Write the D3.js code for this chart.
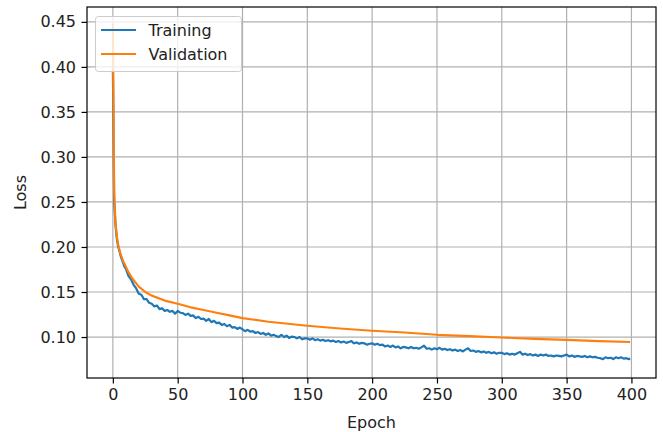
<!DOCTYPE html>
<html>
<head>
<meta charset="utf-8">
<script src="https://cdn.jsdelivr.net/npm/d3@7"></script>
<style>
  body { margin: 0; background: #fff; }
  text { font-family: "DejaVu Sans", sans-serif; fill: #222; }
</style>
</head>
<body>
<div id="chart"></div>
<script>
// epochs 0-9 one by one, then every second epoch, then the last one
const trainEpochs = [...d3.range(0, 10), ...d3.range(10, 400, 2), 399];
const trainLoss = [
  0.40, 0.25, 0.225, 0.21, 0.201, 0.196, 0.19, 0.186, 0.182, 0.178,
  // 10-48
  0.176, 0.168, 0.164, 0.158, 0.154, 0.148, 0.147, 0.142, 0.142, 0.138,
  0.137, 0.134, 0.135, 0.131, 0.132, 0.129, 0.130, 0.128, 0.129, 0.126,
  // 50-98
  0.129, 0.127, 0.1265, 0.1245, 0.126, 0.1235, 0.124, 0.121, 0.1225, 0.120,
  0.1205, 0.118, 0.120, 0.1165, 0.118, 0.1155, 0.116, 0.1135, 0.1145, 0.112,
  0.1135, 0.1105, 0.111, 0.109, 0.1105,
  // 100-148
  0.1085, 0.1065, 0.108, 0.106, 0.1065, 0.1045, 0.1055, 0.1035, 0.1045, 0.1025,
  0.104, 0.1015, 0.1025, 0.101, 0.100, 0.1025, 0.100, 0.1015, 0.099, 0.1005,
  0.100, 0.0985, 0.100, 0.0975, 0.0985,
  // 150-198
  0.0985, 0.097, 0.0985, 0.0965, 0.0975, 0.096, 0.097, 0.0955, 0.0965, 0.0952,
  0.096, 0.0945, 0.0955, 0.094, 0.095, 0.0935, 0.0945, 0.0955, 0.093, 0.094,
  0.0925, 0.0935, 0.093, 0.0915, 0.0925,
  // 200-248
  0.093, 0.0915, 0.0925, 0.091, 0.0915, 0.0895, 0.0905, 0.089, 0.0905, 0.0885,
  0.0895, 0.0875, 0.089, 0.0885, 0.0875, 0.089, 0.0875, 0.088, 0.087, 0.0885,
  0.0905, 0.087, 0.0875, 0.086, 0.0875,
  // 250-298
  0.0865, 0.088, 0.086, 0.087, 0.0855, 0.0865, 0.085, 0.086, 0.0845, 0.0855,
  0.084, 0.086, 0.0875, 0.0845, 0.085, 0.0835, 0.0845, 0.083, 0.084, 0.0825,
  0.0835, 0.082, 0.083, 0.0815, 0.0825,
  // 300-348
  0.0825, 0.081, 0.082, 0.0805, 0.0815, 0.0805, 0.082, 0.0835, 0.0805, 0.0815,
  0.080, 0.081, 0.0795, 0.0805, 0.079, 0.0805, 0.0795, 0.0805, 0.079, 0.0795,
  0.0785, 0.0795, 0.079, 0.0785, 0.0795,
  // 350-398, 399
  0.0805, 0.0785, 0.0795, 0.078, 0.079, 0.0785, 0.078, 0.079, 0.0775, 0.0785,
  0.0775, 0.078, 0.077, 0.0765, 0.0755, 0.0775, 0.0765, 0.077, 0.0755, 0.0775,
  0.0765, 0.0775, 0.076, 0.0765, 0.0755, 0.076
];

const valEpochs = [0, 1, 2, 3, 4, 5, 6, 8, 10, 12, 15, 20, 25, 30, 40, 50, 60, 70, 80, 90,
  100, 120, 150, 175, 200, 225, 250, 275, 300, 325, 350, 375, 399];
const valLoss = [0.448, 0.26, 0.228, 0.212, 0.203, 0.197, 0.192, 0.184, 0.178, 0.172,
  0.165, 0.156, 0.150, 0.146, 0.1405, 0.137, 0.133, 0.130, 0.127, 0.124,
  0.121, 0.117, 0.1125, 0.1095, 0.107, 0.105, 0.1025, 0.101, 0.0995, 0.098,
  0.0968, 0.0955, 0.0945];

const xTicks = [0, 50, 100, 150, 200, 250, 300, 350, 400];
const yTicks = [0.10, 0.15, 0.20, 0.25, 0.30, 0.35, 0.40, 0.45];
const xLimits = [-19.95, 418.95];
const yLimits = [0.0545, 0.4665];

const width = 663, height = 432;
const margin = { top: 7, right: 7, bottom: 54, left: 87 };
const innerW = width - margin.left - margin.right;
const innerH = height - margin.top - margin.bottom;
const fontSize = 16;

const x = d3.scaleLinear().domain(xLimits).range([0, innerW]);
const y = d3.scaleLinear().domain(yLimits).range([innerH, 0]);

const svg = d3.select('#chart').append('svg')
  .attr('width', width)
  .attr('height', height);

const g = svg.append('g')
  .attr('transform', `translate(${margin.left},${margin.top})`);

svg.append('defs').append('clipPath').attr('id', 'clip')
  .append('rect').attr('width', innerW).attr('height', innerH);

// grid
g.append('g').selectAll('line').data(xTicks).join('line')
  .attr('x1', d => x(d)).attr('x2', d => x(d))
  .attr('y1', 0).attr('y2', innerH)
  .attr('stroke', '#b0b0b0').attr('stroke-width', 1.2);
g.append('g').selectAll('line').data(yTicks).join('line')
  .attr('y1', d => y(d)).attr('y2', d => y(d))
  .attr('x1', 0).attr('x2', innerW)
  .attr('stroke', '#b0b0b0').attr('stroke-width', 1.2);

// axes
const xAxis = g.append('g')
  .attr('transform', `translate(0,${innerH})`)
  .call(d3.axisBottom(x).tickValues(xTicks).tickSize(5.5).tickPadding(5.5).tickFormat(d3.format('d')));
const yAxis = g.append('g')
  .call(d3.axisLeft(y).tickValues(yTicks).tickSize(5.5).tickPadding(5.5).tickFormat(d3.format('.2f')));
[xAxis, yAxis].forEach(a => {
  a.select('.domain').remove();
  a.selectAll('.tick line').attr('stroke', '#000').attr('stroke-width', 1.2);
  a.selectAll('.tick text').attr('font-size', fontSize).attr('fill', '#222')
    .attr('font-family', '"DejaVu Sans", sans-serif');
});

// lines
const line = d3.line().x(d => x(d[0])).y(d => y(d[1]));
const plot = g.append('g').attr('clip-path', 'url(#clip)');
plot.append('path')
  .datum(d3.zip(trainEpochs, trainLoss))
  .attr('d', line)
  .attr('fill', 'none').attr('stroke', '#1f77b4').attr('stroke-width', 2.2)
  .attr('stroke-linejoin', 'round');
plot.append('path')
  .datum(d3.zip(valEpochs, valLoss))
  .attr('d', line)
  .attr('fill', 'none').attr('stroke', '#ff7f0e').attr('stroke-width', 2.2)
  .attr('stroke-linejoin', 'round');

// frame
g.append('rect')
  .attr('width', innerW).attr('height', innerH)
  .attr('fill', 'none').attr('stroke', '#000').attr('stroke-width', 1.2);

// labels
svg.append('text')
  .attr('x', margin.left + innerW / 2).attr('y', 422).attr('dy', '0.35em')
  .attr('text-anchor', 'middle').attr('font-size', fontSize)
  .text('Epoch');
svg.append('text')
  .attr('transform', `translate(20,${margin.top + innerH / 2}) rotate(-90)`)
  .attr('dy', '0.35em')
  .attr('text-anchor', 'middle').attr('font-size', fontSize)
  .text('Loss');

// legend
const legend = g.append('g').attr('transform', 'translate(8.5,9.5)');
legend.append('rect')
  .attr('width', 146).attr('height', 55).attr('rx', 3)
  .attr('fill', '#fff').attr('fill-opacity', 0.8)
  .attr('stroke', '#cccccc').attr('stroke-width', 1);
const items = [['Training', '#1f77b4'], ['Validation', '#ff7f0e']];
items.forEach(([name, color], i) => {
  const yy = 13.5 + i * 24;
  legend.append('line')
    .attr('x1', 5.5).attr('x2', 40.5).attr('y1', yy).attr('y2', yy)
    .attr('stroke', color).attr('stroke-width', 2.2);
  legend.append('text')
    .attr('x', 53).attr('y', yy).attr('dy', '0.35em')
    .attr('font-size', fontSize)
    .text(name);
});
</script>
</body>
</html>
